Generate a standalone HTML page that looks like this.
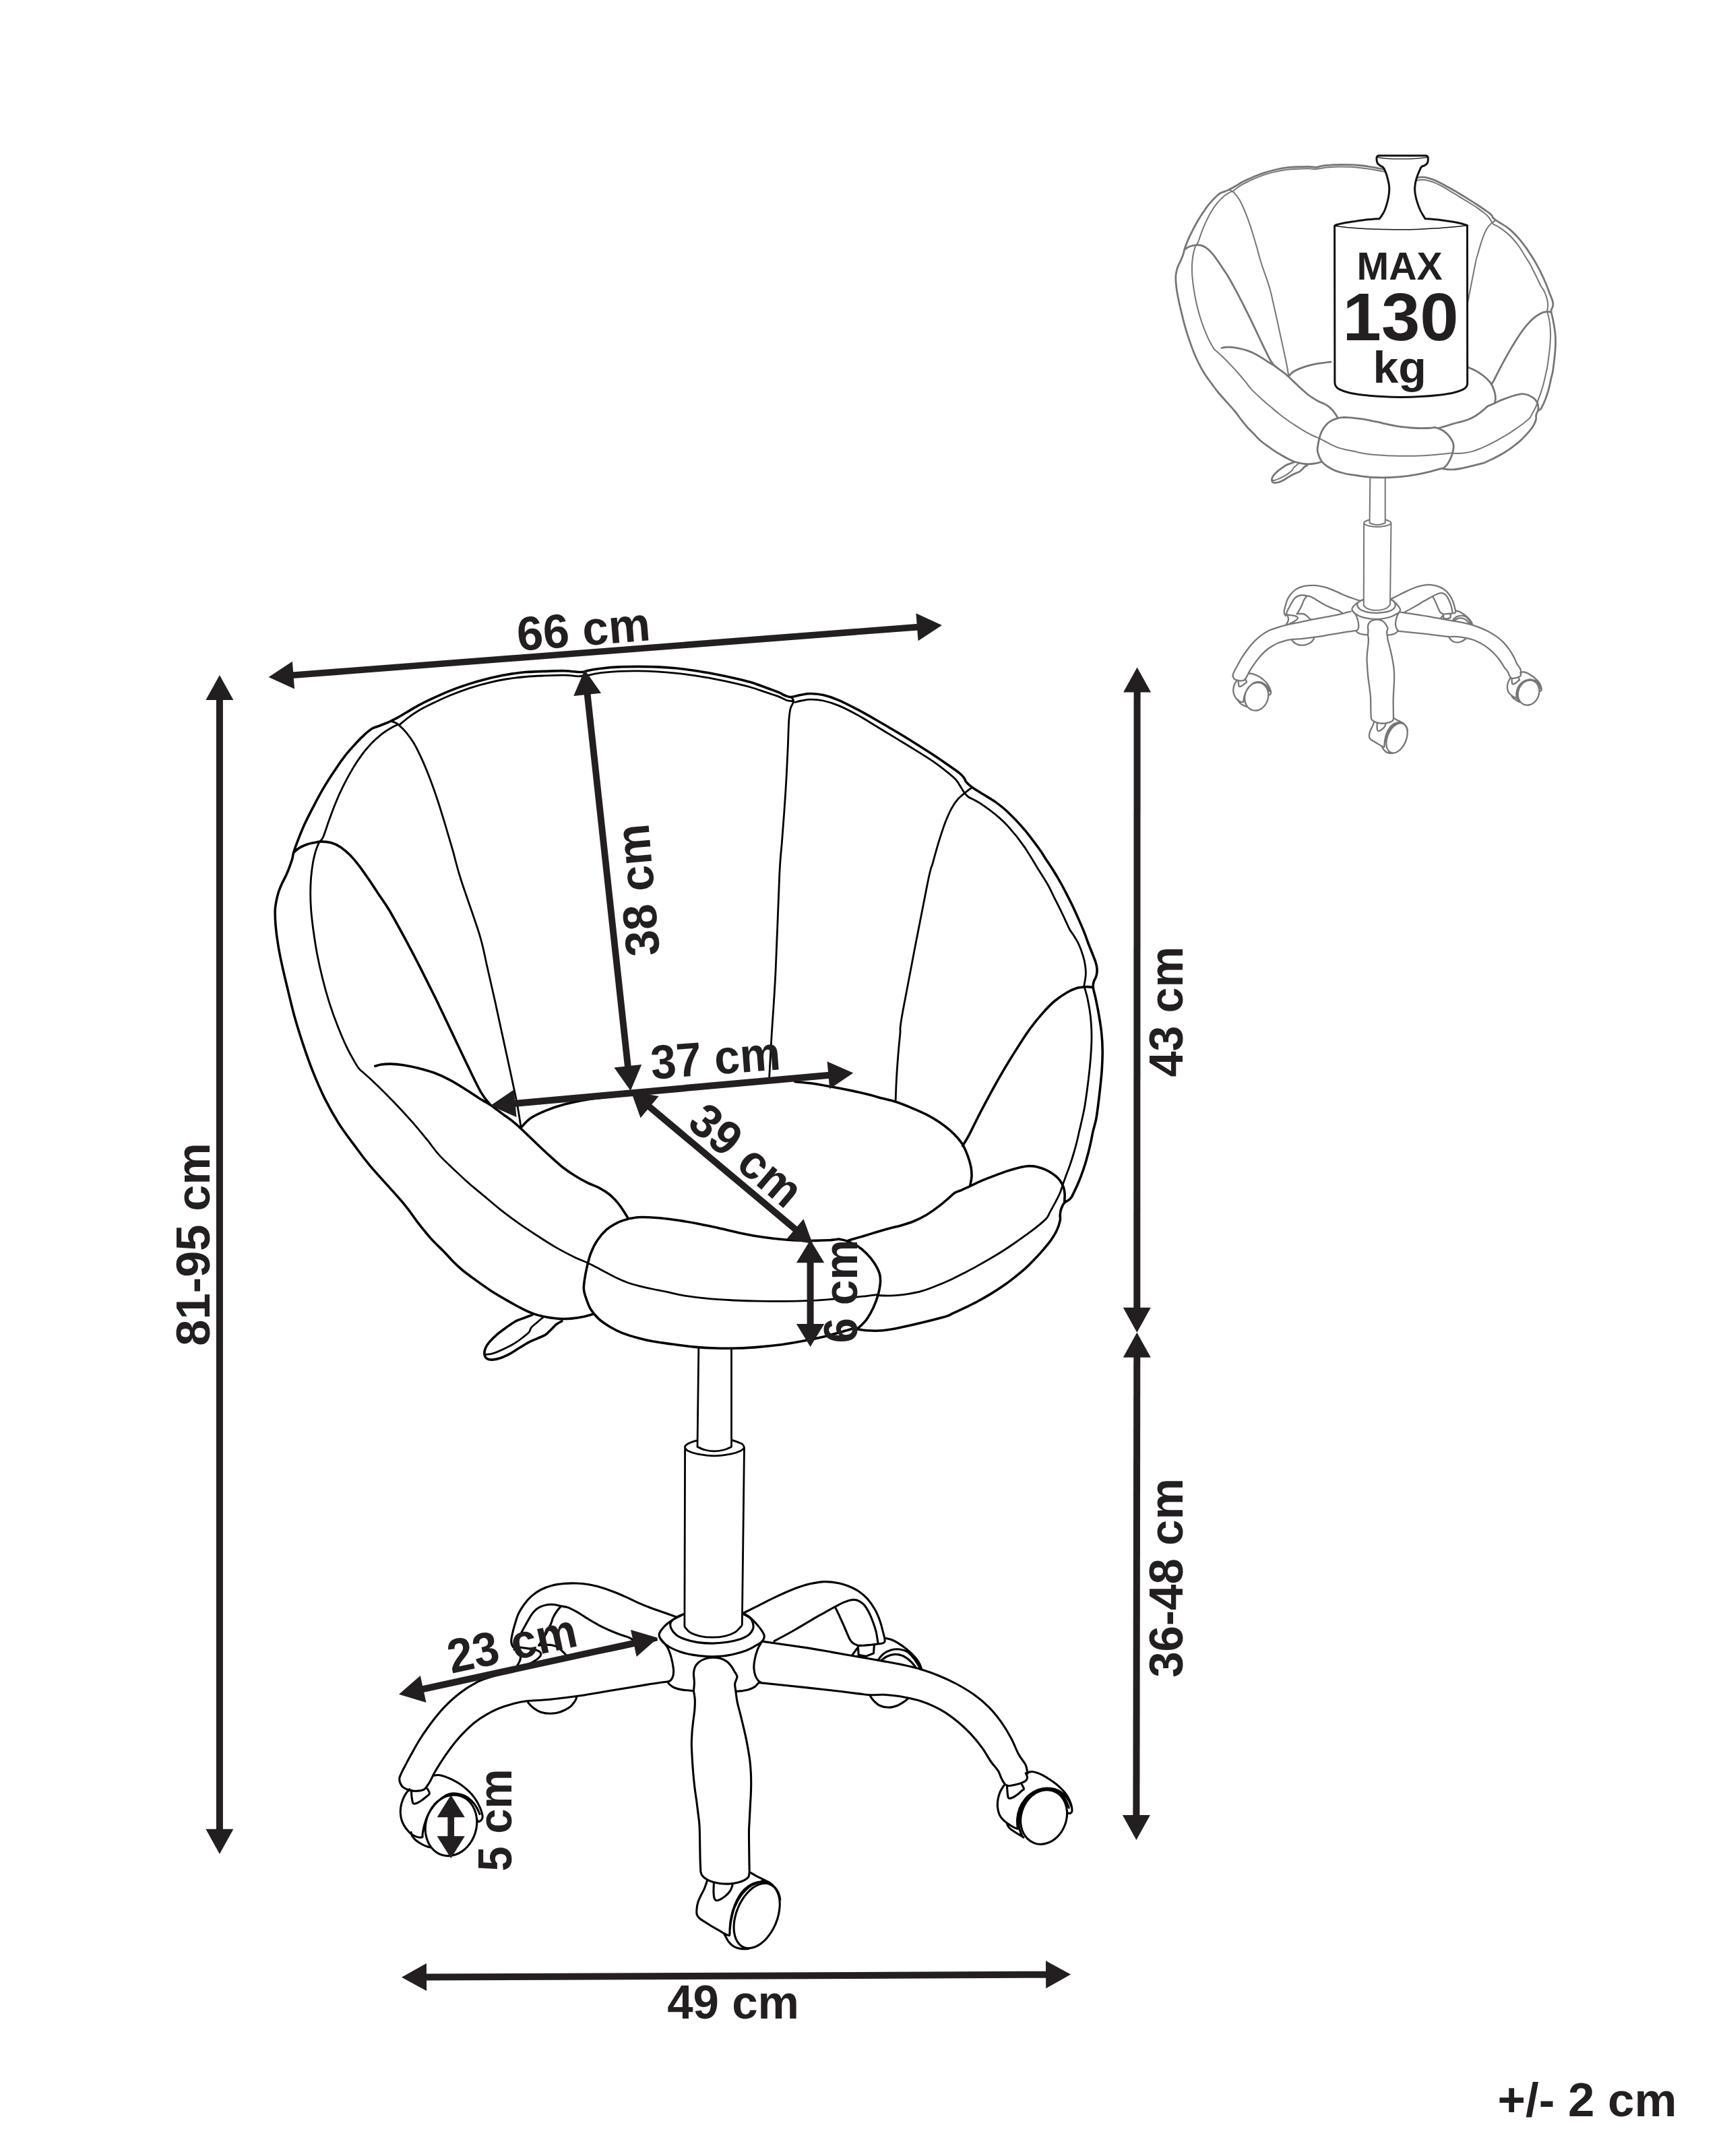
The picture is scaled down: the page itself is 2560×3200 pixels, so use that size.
<!DOCTYPE html>
<html lang="en">
<head>
<meta charset="utf-8">
<title>Chair dimensions</title>
<style>
html,body{margin:0;padding:0;background:#fff;}
body{width:2560px;height:3200px;overflow:hidden;}
svg{display:block;}
text{font-family:"Liberation Sans",sans-serif;fill:#231f20;}
</style>
</head>
<body>
<svg width="2560" height="3200" viewBox="0 0 2560 3200">
<defs>
<path id="chairA" fill="none" stroke-linecap="round" stroke-linejoin="round" d="M867.7 997.1C866.2 997.1 863.8 997.8 858.8 997.5C853.9 997.3 846.5 995.9 838 995.7C829.5 995.5 817.5 996.1 807.8 996.4C798.2 996.7 789.5 996.7 780 997.5C770.5 998.4 760.5 999.8 751 1001.5C741.5 1003.1 732.5 1005.2 723.2 1007.5C713.9 1009.8 704.6 1012.4 695.4 1015.4C686.1 1018.4 676.8 1021.7 667.5 1025.4C658.3 1029.1 647.4 1034.1 639.7 1037.7C632 1041.2 627.3 1043.6 621.2 1046.9C615 1050.3 608 1054.7 602.6 1057.8C597.2 1061 592.6 1063.8 588.7 1065.9C584.8 1068.1 582.5 1069.1 579.4 1070.6C576.3 1072 573.2 1073.3 570.1 1074.5C567.1 1075.8 563.8 1076.9 560.9 1078C558 1079.1 555.8 1079.2 552.8 1081C549.7 1082.9 546.4 1085.5 542.3 1089.1C538.3 1092.8 533.4 1097.6 528.4 1103C523.4 1108.5 517.6 1114.6 512.2 1121.6C506.8 1128.6 501.4 1136.7 495.9 1144.8C490.5 1152.9 484.7 1161.8 479.7 1170.3C474.7 1178.8 470.4 1186.9 465.8 1195.8C461.2 1204.7 455.9 1214.7 451.9 1223.6C447.8 1232.5 444.2 1242.2 441.4 1249.1C438.7 1256.1 436.9 1261.1 435.7 1265.4C434.4 1269.6 434.8 1271.2 433.8 1274.6C432.8 1278.1 431.3 1282.4 429.9 1286.2C428.4 1290.1 427.1 1293.6 425.2 1297.8C423.3 1302.1 420.2 1307.5 418.3 1311.7C416.3 1316 415 1319.1 413.6 1323.3C412.3 1327.6 411 1332.8 410.1 1337.2C409.3 1341.7 408.5 1344 408.3 1350C408.1 1356 408.3 1364.7 409 1373.2C409.7 1381.7 410.9 1391.4 412.5 1401C414 1410.7 415.9 1420.3 418.3 1431.2C420.6 1442 423.3 1453.2 426.4 1465.9C429.5 1478.7 432.9 1493.8 436.8 1507.7C440.7 1521.6 444.9 1535.5 449.6 1549.4C454.2 1563.3 459.2 1577.6 464.6 1591.2C470 1604.7 475.7 1617.8 482 1630.6C488.4 1643.3 495.6 1656.1 502.9 1667.7C510.2 1679.3 518.4 1689.7 526.1 1700.1C533.8 1710.6 537.2 1716 549.3 1730.3C561.4 1744.6 586.9 1771.9 598.6 1785.8C610.2 1799.7 612.5 1804.7 619.4 1813.6C626.4 1822.5 633.7 1831.8 640.3 1839.1C646.9 1846.5 653.4 1852.1 658.8 1857.7C664.3 1863.3 668.1 1868.1 672.8 1872.8C677.4 1877.4 681.3 1881.1 686.7 1885.5C692.1 1890 698.3 1894.4 705.2 1899.4C712.2 1904.4 720.7 1910.6 728.4 1915.7C736.1 1920.7 743.9 1925.1 751.6 1929.6C759.3 1934 767.8 1938.8 774.8 1942.3C781.7 1945.8 787.1 1948.3 793.3 1950.4C799.5 1952.6 805.7 1953.9 811.9 1955.1C818.1 1956.2 824.3 1957.1 830.4 1957.4C836.6 1957.7 842.8 1957.5 849 1956.9C855.2 1956.3 862.1 1955.1 867.5 1953.9C872.9 1952.8 879.1 1950.6 881.4 1950 M435.7 1265.4C436.8 1264.4 439.5 1261.5 442.6 1259.6C445.7 1257.6 450.3 1255.2 454.2 1253.8C458.1 1252.3 461.9 1251.5 465.8 1250.8C469.7 1250 473.1 1249.1 477.4 1249.1C481.6 1249.1 486.7 1249.4 491.3 1250.8C495.9 1252.1 500.6 1254.2 505.2 1257.2C509.9 1260.3 514.5 1264.2 519.1 1268.8C523.8 1273.5 528.4 1279.1 533 1285.1C537.7 1291.1 542.3 1298 547 1304.8C551.6 1311.5 555.8 1318.1 560.9 1325.7C565.9 1333.2 570.5 1339 577.1 1350C583.7 1361 592.6 1377.4 600.3 1391.7C608 1406 615.7 1420.7 623.5 1435.8C631.2 1450.9 638.9 1466.3 646.7 1482.2C654.4 1498 662.1 1514.6 669.9 1530.9C677.6 1547.1 685.7 1564.5 693 1579.6C700.4 1594.6 708.1 1611.3 713.9 1621.3C719.7 1631.4 725.5 1636.8 727.8 1639.9 M556.7 1582.3C558.2 1582 561.7 1580.6 565.5 1580C569.3 1579.5 574 1579 579.4 1579.1C584.8 1579.2 591 1579.7 598 1580.7C604.9 1581.8 613.4 1583.4 621.2 1585.4C628.9 1587.3 636.6 1589.4 644.3 1592.3C652.1 1595.2 659.8 1598.7 667.5 1602.8C675.3 1606.8 683 1611.8 690.7 1616.7C698.5 1621.5 707.7 1627.9 713.9 1631.7C720.1 1635.6 722.4 1636.2 727.8 1639.9C733.2 1643.5 740.2 1649.1 746.4 1653.8C752.6 1658.4 756.1 1660 764.9 1667.7C773.7 1675.4 790.5 1691.9 799.1 1700C807.7 1708.1 810.5 1710.8 816.5 1716.2C822.5 1721.6 828.9 1727.6 835.1 1732.5C841.3 1737.3 847.4 1741.4 853.6 1745.2C859.8 1749.1 866 1752.6 872.2 1755.7C878.4 1758.7 885.3 1760.9 890.7 1763.8C896.1 1766.7 900.4 1769.6 904.6 1773C908.9 1776.5 912.8 1780.6 916.2 1784.6C919.7 1788.7 922.8 1793.3 925.5 1797.4C928.2 1801.4 931.3 1807.1 932.5 1809 M867.7 997.1C868.5 996.8 868.8 996 872.8 995.2C876.7 994.4 883.6 993.1 891.3 992.2C899 991.3 909.9 990.3 919.1 989.9C928.4 989.4 937.7 989.4 947 989.4C956.2 989.4 965.5 989.5 974.8 989.9C984.1 990.3 993.3 990.9 1002.6 991.7C1011.9 992.6 1021.2 993.9 1030.4 995.2C1039.7 996.6 1049 998.1 1058.3 999.9C1067.5 1001.6 1076.8 1003.5 1086.1 1005.7C1095.4 1007.8 1105.4 1010.1 1113.9 1012.6C1122.4 1015.1 1130.1 1018.2 1137.1 1020.7C1144.1 1023.2 1151 1025.7 1155.7 1027.7C1160.3 1029.6 1161.8 1031.2 1164.9 1032.3C1168 1033.5 1170.1 1034.8 1174.2 1034.6C1178.3 1034.4 1184.4 1032 1189.3 1031.2C1194.1 1030.3 1197.8 1029.5 1203.2 1029.5C1208.6 1029.6 1214.8 1030 1221.7 1031.6C1228.7 1033.2 1236.4 1035.7 1244.9 1039.3C1253.4 1042.9 1263.5 1048.3 1272.8 1053.2C1282 1058.1 1291.3 1063.4 1300.6 1068.7C1309.9 1074 1319.1 1079.4 1328.4 1085C1337.7 1090.5 1347 1096.1 1356.2 1101.9C1365.5 1107.7 1375.6 1114.1 1384.1 1119.7C1392.6 1125.3 1400.7 1130.9 1407.2 1135.5C1413.8 1140.1 1419.6 1144 1423.5 1147.1C1427.3 1150.2 1428.7 1151.8 1430.4 1154.1C1432.2 1156.3 1432 1158.2 1433.9 1160.6C1435.8 1162.9 1437.9 1164.9 1442 1168C1446.2 1171 1452.9 1175.1 1458.8 1178.8C1464.7 1182.6 1471.2 1186 1477.4 1190.4C1483.6 1194.9 1489 1198.9 1495.9 1205.5C1502.9 1212.1 1511.4 1220.8 1519.1 1229.9C1526.9 1238.9 1537 1252.7 1542.3 1260C1547.6 1267.3 1547.2 1267.6 1551 1273.4C1554.8 1279.2 1561.1 1288.5 1564.9 1294.7C1568.8 1300.9 1571.1 1304.9 1574.2 1310.5C1577.3 1316.1 1580.4 1322.1 1583.5 1328.1C1586.6 1334.1 1589.7 1340.2 1592.8 1346.7C1595.8 1353.2 1599.2 1360.7 1602 1367.1C1604.8 1373.4 1607.3 1379.2 1609.4 1384.7C1611.6 1390.2 1612.3 1392.9 1615 1400C1617.7 1407.1 1623.6 1421 1625.8 1427.5C1628 1434.1 1627.9 1435.7 1628.1 1439.1C1628.3 1442.6 1627.8 1445.3 1627 1448.4C1626.1 1451.5 1623.8 1454.8 1623 1457.7C1622.2 1460.6 1621.9 1461.9 1622.3 1465.8C1622.8 1469.7 1624.4 1474.5 1625.8 1480.9C1627.1 1487.2 1629 1495.6 1630.4 1504.1C1631.9 1512.6 1633.6 1522.6 1634.6 1531.9C1635.6 1541.2 1636.2 1550 1636.2 1559.7C1636.3 1569.4 1635.8 1579 1635.1 1589.9C1634.3 1600.7 1632.9 1613 1631.6 1624.6C1630.2 1636.2 1628.6 1650.2 1627 1659.4C1625.3 1668.6 1623.2 1674.3 1621.9 1680C1620.6 1685.7 1620.2 1689 1619.1 1693.9C1618 1698.9 1616.8 1704.3 1615.4 1709.7C1614 1715.1 1612.5 1720.8 1610.8 1726.4C1609.1 1731.9 1607.1 1738 1605.2 1743.1C1603.4 1748.2 1601.5 1752.7 1599.7 1757C1597.8 1761.3 1595.6 1765.8 1594.1 1769C1592.5 1772.3 1591.6 1774.5 1590.4 1776.5C1589.1 1778.4 1588.1 1779.5 1586.7 1780.6C1585.3 1781.8 1583.3 1782.6 1582 1783.4C1580.8 1784.3 1580.2 1784.6 1579.2 1785.7C1578.3 1786.9 1577.3 1788.5 1576.5 1790.4C1575.6 1792.2 1574.7 1794.6 1574.1 1796.9C1573.6 1799.2 1573.4 1801.8 1573.2 1804.3C1573.1 1806.8 1574 1808 1573.2 1811.7C1572.4 1815.4 1570.6 1821.5 1568.3 1826.3C1566.1 1831 1563.2 1835.5 1560 1840.2C1556.8 1844.8 1552.8 1849.4 1548.9 1854.1C1544.9 1858.7 1540.8 1863.4 1536.3 1868C1531.9 1872.6 1527.5 1877.3 1522.4 1881.9C1517.3 1886.6 1511.3 1891.4 1505.7 1895.8C1500.2 1900.2 1495.1 1904.2 1489 1908.3C1483 1912.5 1476.1 1916.9 1469.6 1920.9C1463.1 1924.8 1456.6 1928.5 1450.1 1932C1443.6 1935.5 1436.6 1938.8 1430.6 1941.7C1424.6 1944.6 1419 1947.2 1413.9 1949.4C1408.8 1951.6 1412.7 1951.5 1400 1955C1387.3 1958.4 1352.7 1966.8 1337.7 1970.1C1322.7 1973.4 1318.4 1974 1309.9 1974.8C1301.4 1975.6 1293 1975.2 1286.7 1974.8C1280.3 1974.4 1274.1 1972.9 1271.6 1972.5 M1622.3 1465.8C1621 1465.6 1616.5 1464.8 1614.2 1464.6C1611.9 1464.5 1611.1 1464.8 1608.4 1465.1C1605.7 1465.4 1602 1465.2 1598 1466.5C1593.9 1467.8 1589.5 1469.6 1584.1 1472.8C1578.6 1475.9 1571.7 1480.3 1565.5 1485.5C1559.3 1490.7 1553.1 1497.1 1547 1504.1C1540.8 1511 1534.6 1518.7 1528.4 1527.2C1522.2 1535.7 1516 1545.4 1509.9 1555.1C1503.7 1564.7 1497.5 1574.8 1491.3 1585.2C1485.1 1595.7 1478.9 1606.5 1472.8 1617.7C1466.6 1628.9 1460 1641.3 1454.2 1652.5C1448.4 1663.7 1442.2 1676.9 1438 1684.9C1433.7 1692.9 1430.1 1698 1428.6 1700.6 M773 1673.9C775.4 1671.6 780.8 1664.3 787 1660C793.1 1655.7 801.6 1651.9 810.1 1648.4C818.6 1644.9 827.9 1641.8 838 1639.1C848 1636.4 858.5 1634.2 870.4 1632.2C882.4 1630.2 903.3 1627.9 909.9 1627.1 M1180 1605.5C1183.9 1605.9 1194.7 1606.7 1203.2 1607.8C1211.7 1609 1221.7 1610.8 1231 1612.5C1240.3 1614.1 1249.6 1615.9 1258.8 1617.8C1268.1 1619.7 1278.2 1622 1286.7 1624.1C1295.2 1626.1 1302.9 1628.5 1309.9 1630.3C1316.8 1632.1 1321.4 1632.7 1328.4 1635C1335.4 1637.2 1343.9 1640.6 1351.6 1643.8C1359.3 1647 1367.8 1650.6 1374.8 1654.2C1381.7 1657.8 1387.5 1661.2 1393.3 1665.1C1399.1 1669 1404.9 1673.4 1409.6 1677.4C1414.2 1681.4 1417.9 1685.2 1421.2 1689C1424.4 1692.7 1426.8 1695.4 1429.3 1699.9C1431.8 1704.3 1434.3 1710.3 1436.2 1715.7C1438.2 1721 1439.9 1726.9 1440.9 1731.9C1441.8 1736.9 1442.2 1741.2 1442 1745.8C1441.8 1750.4 1440.1 1757.4 1439.7 1759.7 M1439.2 1760.8C1441.6 1759.6 1448.1 1756.2 1453.6 1753.8C1459.1 1751.4 1465.5 1748.9 1472.2 1746.4C1478.9 1743.8 1488 1740.5 1493.9 1738.4C1499.9 1736.4 1503.5 1735.4 1507.8 1734.3C1512.2 1733.1 1516.3 1732.1 1519.9 1731.5C1523.4 1730.9 1525.9 1730.5 1529.2 1730.6C1532.4 1730.6 1535.8 1731.1 1539.4 1731.9C1542.9 1732.8 1546.8 1734 1550.5 1735.7C1554.2 1737.3 1558.4 1739.5 1561.6 1741.7C1564.9 1743.8 1567.7 1746.2 1570 1748.6C1572.3 1751 1574.1 1753.6 1575.5 1756.1C1577 1758.5 1578 1760.7 1578.8 1763.5C1579.6 1766.3 1580 1769.5 1580.2 1772.8C1580.3 1776 1579.8 1781.3 1579.7 1783 M1439.2 1760.8C1437 1761.8 1429.6 1765.1 1425.8 1766.8C1422 1768.4 1419.6 1768.7 1416.5 1770.7C1413.4 1772.7 1411.1 1775.6 1407.2 1778.8C1403.4 1782.1 1398.7 1786.4 1393.3 1790.4C1387.9 1794.5 1381 1799.5 1374.8 1803.2C1368.6 1806.9 1362.4 1809.9 1356.2 1812.5C1350 1815.1 1343.9 1816.9 1337.7 1818.7C1331.5 1820.5 1325.3 1821.7 1319.1 1823.4C1312.9 1825 1306.8 1826.8 1300.6 1828.7C1294.4 1830.6 1288.2 1832.6 1282 1834.5C1275.8 1836.3 1267.7 1838.6 1263.5 1839.8C1259.2 1841.1 1257.7 1841.6 1256.5 1841.9 M1244.5 1839.1C1246.5 1839.6 1251.8 1840.2 1256.5 1841.9C1261.2 1843.7 1267.9 1846.6 1272.8 1849.6C1277.6 1852.6 1281.4 1855.9 1285.5 1860C1289.6 1864.1 1293.8 1868.9 1297.1 1873.9C1300.4 1878.9 1303.7 1885.1 1305.2 1890.1C1306.8 1895.2 1306.8 1898.6 1306.4 1904.1C1306 1909.5 1304.6 1916.4 1302.9 1922.6C1301.2 1928.8 1298.6 1935.4 1295.9 1941.2C1293.2 1947 1289.8 1952.9 1286.7 1957.4C1283.6 1961.8 1279.9 1965.3 1277.4 1967.8C1274.9 1970.3 1272.6 1971.7 1271.6 1972.5 M932.5 1809C934.8 1808.6 941.4 1807.1 946.4 1806.7C951.4 1806.3 957.2 1806.5 962.6 1806.7C968 1806.9 971.5 1807.1 978.8 1807.8C986.2 1808.6 997.4 1810 1006.7 1811.3C1015.9 1812.7 1025.2 1814.2 1034.5 1815.9C1043.8 1817.7 1053 1819.7 1062.3 1821.7C1071.6 1823.8 1080.9 1826.2 1090.1 1828.2C1099.4 1830.3 1108.7 1832.4 1118 1834C1127.2 1835.7 1137.3 1836.9 1145.8 1838C1154.3 1839 1161.3 1839.7 1169 1840.3C1176.7 1840.9 1185.2 1841.3 1192.2 1841.4C1199.1 1841.6 1204.5 1841.6 1210.7 1841.4C1216.9 1841.3 1223.7 1841.1 1229.3 1840.8C1234.9 1840.4 1241.9 1839.4 1244.5 1839.1 M932.5 1809C929.8 1810 921.6 1812.1 916.2 1814.8C910.8 1817.5 905 1820.8 900 1825.2C895 1829.7 890 1835.7 886.1 1841.4C882.2 1847.2 879.3 1853.4 876.8 1860C874.3 1866.6 872.6 1874.3 871 1880.9C869.5 1887.4 868.3 1894 867.5 1899.4C866.8 1904.8 866 1908.7 866.4 1913.3C866.8 1918 868.1 1922.2 869.9 1927.2C871.6 1932.3 873.7 1938.5 876.8 1943.5C879.9 1948.5 883.8 1953.1 888.4 1957.4C893 1961.6 898.8 1965.5 904.6 1969C910.4 1972.5 916.2 1975.5 923.2 1978.3C930.1 1981 938.6 1983.6 946.4 1985.7C954.1 1987.8 961.1 1989.5 969.6 1991C978.1 1992.6 987.3 1993.6 997.4 1995C1007.4 1996.3 1019 1998.1 1029.9 1999.1C1040.7 2000.1 1051.5 2000.7 1062.3 2001C1073.1 2001.3 1084 2001.3 1094.8 2001C1105.6 2000.7 1116.4 2000 1127.2 1999.1C1138.1 1998.2 1148.9 1997.1 1159.7 1995.7C1170.5 1994.2 1181.4 1992.4 1192.2 1990.3C1203 1988.3 1215.4 1985.6 1224.6 1983.4C1233.9 1981.2 1240.5 1979.1 1247.8 1977.1C1255.2 1975.1 1264.7 1972.1 1268.7 1971.3C1272.7 1970.5 1271.1 1972.3 1271.6 1972.5 M789.9 1951.6C788.1 1952.3 783.5 1954 779.4 1955.5C775.4 1957.1 770.1 1958.4 765.5 1960.9C760.9 1963.3 756.2 1966.9 751.6 1970.1C747 1973.4 741.9 1976.9 737.7 1980.6C733.4 1984.3 729 1988.7 726.1 1992.2C723.2 1995.7 721.4 1998.4 720.3 2001.4C719.1 2004.5 718.7 2008.2 719.1 2010.7C719.5 2013.2 720.7 2015.3 722.6 2016.5C724.5 2017.8 727.4 2018.3 730.7 2018.1C734 2018 738.1 2017.3 742.3 2015.8C746.6 2014.4 751.6 2012 756.2 2009.6C760.9 2007.1 765.5 2003.8 770.1 2001C774.8 1998.2 779.4 1995.1 784.1 1992.6C788.7 1990.2 793.7 1988.3 798 1986.4C802.2 1984.4 806.1 1983.4 809.6 1981C813 1978.7 816.1 1975.1 818.8 1972.5C821.5 1969.9 823.3 1967.4 825.8 1965.5C828.3 1963.6 832.6 1961.6 833.9 1960.9"/>
<path id="chairB" fill="none" stroke-linecap="round" stroke-linejoin="round" d="M1015.5 2395.3C1014.1 2395.9 1009.8 2397.3 1007.2 2398.6C1004.6 2400 1001.8 2401.6 999.8 2403.3C997.8 2405 995.7 2406.5 995.1 2408.8C994.5 2411.2 994.7 2414.3 996.1 2417.2C997.4 2420.1 1000.1 2423.8 1003.5 2426.5C1006.9 2429.1 1011.2 2431.1 1016.5 2433C1021.7 2434.8 1028.2 2436.6 1035 2437.6C1041.8 2438.6 1049.9 2439.1 1057.3 2439.1C1064.7 2439 1072.7 2438.2 1079.5 2437.2C1086.3 2436.2 1092.8 2434.7 1098.1 2433C1103.3 2431.2 1107.8 2429.1 1111.1 2426.5C1114.3 2423.8 1116.6 2420.3 1117.6 2417.2C1118.6 2414.1 1117.8 2410.5 1117 2407.9C1116.2 2405.3 1115.3 2403.5 1112.9 2401.4C1110.5 2399.3 1104.4 2396.3 1102.7 2395.3 M1015.5 2395.3C1014.1 2396 1009.8 2398.2 1007.2 2399.6C1004.6 2400.9 1002.6 2401.6 999.8 2403.3C997 2405 993.3 2407.4 990.5 2409.8C987.7 2412.1 985.1 2414.7 983.1 2417.2C981.1 2419.7 979.1 2422.3 978.4 2424.6C977.8 2426.9 978.4 2428.9 979.4 2431.1C980.3 2433.3 981.5 2435.3 984 2437.6C986.5 2439.9 990 2442.7 994.2 2445C998.4 2447.3 1003.5 2449.7 1009 2451.5C1014.6 2453.4 1020.8 2455 1027.6 2456.1C1034.4 2457.3 1042.4 2458.2 1049.9 2458.6C1057.3 2458.9 1065.3 2458.6 1072.1 2458C1078.9 2457.4 1084.8 2456.1 1090.7 2454.7C1096.5 2453.3 1102.4 2451.6 1107.4 2449.7C1112.3 2447.7 1116.5 2445.3 1120.3 2443.2C1124.2 2441 1128.2 2439.1 1130.6 2436.7C1132.9 2434.2 1134.4 2431.3 1134.3 2428.3C1134.1 2425.4 1131.6 2422.1 1129.6 2419C1127.6 2416 1125 2412.9 1122.2 2409.8C1119.4 2406.7 1116.2 2403.1 1112.9 2400.5C1109.7 2397.9 1104.4 2395.1 1102.7 2394 M979.4 2431.1C980 2431.9 981.2 2433.4 983.1 2435.7C984.9 2438.1 988.3 2441 990.5 2445C992.7 2449 994.6 2454.6 996.1 2459.9C997.5 2465.1 998.9 2471.9 999.4 2476.6C999.9 2481.2 999.6 2484.7 998.8 2487.7C998.1 2490.6 996.4 2492.8 995.1 2494.2C993.9 2495.6 991.6 2494.9 991.4 2496C991.3 2497.1 992.5 2499.1 994.2 2500.7C995.9 2502.2 998.5 2504.1 1001.6 2505.3C1004.7 2506.5 1008.1 2507.4 1012.8 2508.1C1017.4 2508.8 1026.7 2509.3 1029.4 2509.6 M1130.6 2436.7C1129.5 2438.7 1125.8 2444.2 1124.1 2448.7C1122.3 2453.2 1120.8 2458.9 1120 2463.6C1119.1 2468.2 1118.6 2472.5 1118.9 2476.6C1119.1 2480.6 1120.1 2484.6 1121.3 2487.7C1122.5 2490.8 1124.4 2493.4 1125.9 2495.1C1127.5 2496.8 1130.6 2497.4 1130.6 2497.9C1130.6 2498.3 1127.6 2497 1125.9 2497.9C1124.2 2498.8 1122.8 2501.8 1120.3 2503.4C1117.9 2505.1 1114.2 2506.7 1111.1 2507.7C1108 2508.7 1104.7 2509.1 1101.8 2509.6C1098.9 2510 1094.8 2510.2 1093.4 2510.3 M1029.4 2509.6C1029.6 2507.5 1030.4 2501.2 1030.4 2497C1030.4 2492.7 1029.3 2487.7 1029.4 2484C1029.6 2480.3 1030.1 2477.5 1031.3 2474.7C1032.5 2471.9 1034.4 2469.4 1036.9 2467.3C1039.3 2465.2 1042.7 2463.3 1046.1 2462.1C1049.5 2460.9 1053.6 2460.3 1057.3 2460.2C1061 2460.1 1065 2460.5 1068.4 2461.3C1071.8 2462.2 1074.9 2463.5 1077.7 2465.4C1080.5 2467.3 1082.9 2470.1 1085.1 2472.8C1087.3 2475.6 1089.2 2479.5 1090.7 2482.1C1092.2 2484.7 1094 2485.8 1094 2488.6C1094 2491.4 1091.1 2495.6 1090.7 2498.8C1090.3 2502.1 1091 2503.6 1091.6 2508.1C1092.2 2512.6 1093 2520.2 1094.1 2525.9C1095.2 2531.7 1096.9 2537 1098.3 2542.6C1099.7 2548.2 1101 2553.5 1102.4 2559.3C1103.8 2565.1 1105.3 2571.4 1106.6 2577.4C1107.9 2583.4 1109 2589.4 1110.1 2595.5C1111.1 2601.5 1112.2 2607.8 1112.9 2613.6C1113.6 2619.4 1114 2624.7 1114.3 2630.3C1114.6 2635.8 1114.7 2641.4 1114.7 2647C1114.7 2652.5 1114.5 2657.9 1114.3 2663.7C1114 2669.4 1113.6 2675.2 1113.3 2681.7C1112.9 2688.2 1112.5 2696.2 1112.2 2702.6C1111.9 2709 1111.5 2710.7 1111.5 2720C1111.4 2729.3 1111.8 2748.6 1111.9 2758.4C1112 2768.3 1112.1 2775.8 1112.2 2779.3 M1029.4 2509.6C1029.8 2511.8 1031.1 2518.1 1031.3 2522.9C1031.5 2527.7 1031.2 2533.1 1030.8 2538.4C1030.3 2543.8 1029.3 2549.6 1028.7 2555.1C1028.1 2560.7 1027.4 2566.3 1027 2571.8C1026.6 2577.4 1026.3 2583 1026.3 2588.5C1026.3 2594.1 1026.7 2599.7 1027 2605.2C1027.3 2610.8 1027.6 2616.3 1028 2621.9C1028.4 2627.5 1028.9 2633 1029.4 2638.6C1029.9 2644.2 1030.5 2649.7 1031.2 2655.3C1031.9 2660.9 1032.8 2666.4 1033.6 2672C1034.3 2677.6 1035 2683.1 1035.7 2688.7C1036.3 2694.3 1037.3 2700.2 1037.7 2705.4C1038.2 2710.6 1038.2 2711.6 1038.4 2720C1038.6 2728.4 1038.8 2746 1039 2755.7C1039.2 2765.3 1039.7 2774.2 1039.8 2777.9 M1039.8 2777.9C1040.2 2778.8 1040.5 2781.6 1041.9 2783.5C1043.3 2785.3 1045.5 2787.4 1048.2 2789C1050.8 2790.7 1054.2 2792.1 1057.9 2793.2C1061.6 2794.3 1066.3 2795.3 1070.4 2795.7C1074.6 2796.2 1078.8 2796.3 1083 2796C1087.1 2795.7 1091.8 2794.8 1095.5 2793.9C1099.2 2793 1102.7 2791.8 1105.2 2790.4C1107.8 2789 1109.6 2787.4 1110.8 2785.6C1111.9 2783.7 1111.9 2780.3 1112.2 2779.3 M1049.6 2791.1C1048.9 2793.1 1047 2799.1 1045.4 2803C1043.8 2806.8 1041.4 2810.6 1039.8 2814.1C1038.2 2817.6 1036.6 2820.6 1035.7 2823.8C1034.7 2827.1 1034.2 2830.6 1034 2833.6C1033.8 2836.6 1033.5 2839.6 1034.3 2841.9C1035 2844.2 1036.3 2845.6 1038.4 2847.5C1040.5 2849.3 1043.5 2851 1046.8 2853C1050 2855.1 1054.2 2857.8 1057.9 2860C1061.6 2862.2 1066.3 2864.6 1069 2866.3C1071.8 2867.9 1072.4 2868.7 1074.6 2869.7C1076.8 2870.8 1080.9 2873.4 1082.3 2872.5C1083.7 2871.6 1082.8 2865.6 1083 2864.2 M1113.6 2779.3C1115 2780.1 1118.7 2782.4 1121.9 2784.2C1125.2 2785.9 1129.8 2788.1 1133 2789.7C1136.3 2791.4 1138.8 2792.3 1141.4 2793.9C1143.9 2795.5 1146.4 2797.5 1148.3 2799.5C1150.3 2801.4 1151.9 2803.5 1153.2 2805.7C1154.6 2807.9 1155.7 2810.4 1156.4 2812.7C1157.2 2815 1157.6 2818.5 1157.8 2819.7 M1059.3 2796C1059.3 2798.1 1058.9 2805 1059 2808.5C1059.1 2812 1059.3 2814.8 1060 2816.9C1060.7 2818.9 1061.7 2820.5 1063.5 2820.8C1065.2 2821 1068.1 2819.5 1070.4 2818.3C1072.8 2817 1075.2 2815.4 1077.4 2813.4C1079.6 2811.4 1082 2809 1083.7 2806.4C1085.3 2803.9 1086.6 2799.5 1087.1 2798.1 M1083 2864.2C1083.2 2861.9 1083.5 2855.1 1084.3 2850.3C1085.2 2845.4 1086.3 2839.8 1087.8 2835C1089.3 2830.1 1091.2 2825.4 1093.4 2821C1095.6 2816.6 1098.1 2812.1 1101 2808.5C1103.9 2804.9 1107.5 2801.8 1110.8 2799.5C1114 2797.2 1117.3 2795.7 1120.5 2794.6C1123.8 2793.5 1127.2 2793.1 1130.3 2792.9C1133.3 2792.8 1137.2 2793.4 1138.6 2793.5 M1133 2791.1C1129.8 2792.5 1119.1 2795.8 1113.6 2799.5C1108 2803.2 1103.6 2808.1 1099.7 2813.4C1095.7 2818.7 1092.3 2825.3 1089.9 2831.5C1087.5 2837.6 1086.2 2844.8 1085 2850.3C1083.9 2855.7 1083.6 2860.5 1083.2 2864.2C1082.8 2867.9 1082.8 2871.1 1082.7 2872.5 M1074.6 2870.4C1075.1 2871.2 1076.2 2873.3 1077.4 2875.3C1078.6 2877.3 1079.9 2880.2 1081.6 2882.3C1083.2 2884.3 1085 2886.3 1087.1 2887.8C1089.2 2889.3 1091.5 2890.5 1094.1 2891.3C1096.6 2892.1 1099.7 2892.5 1102.4 2892.7C1105.2 2892.9 1109.4 2892.5 1110.8 2892.4 M1151.2 2855.1C1149.5 2859.1 1147.4 2863.2 1145.2 2866.8C1142.9 2870.4 1140.3 2873.9 1137.7 2876.9C1135 2879.9 1132.1 2882.6 1129.2 2884.7C1126.3 2886.9 1123.2 2888.6 1120.3 2889.8C1117.4 2890.9 1114.4 2891.5 1111.6 2891.6C1108.8 2891.7 1106.1 2891.2 1103.7 2890.2C1101.3 2889.2 1099 2887.6 1097.1 2885.6C1095.2 2883.6 1093.6 2881 1092.3 2878.1C1091.1 2875.2 1090.1 2871.8 1089.6 2868.3C1089.1 2864.7 1088.9 2860.7 1089.2 2856.7C1089.4 2852.7 1090.1 2848.4 1091.1 2844.3C1092.1 2840.1 1093.5 2835.8 1095.2 2831.8C1096.8 2827.8 1098.9 2823.7 1101.2 2820.1C1103.4 2816.4 1106 2813 1108.6 2810C1111.3 2807 1114.2 2804.3 1117.1 2802.1C1120 2800 1123.1 2798.3 1126 2797.1C1129 2796 1131.9 2795.3 1134.7 2795.3C1137.5 2795.2 1140.2 2795.7 1142.6 2796.7C1145 2797.7 1147.3 2799.3 1149.2 2801.3C1151.1 2803.3 1152.8 2805.9 1154 2808.8C1155.3 2811.7 1156.2 2815.1 1156.7 2818.6C1157.2 2822.2 1157.4 2826.2 1157.1 2830.2C1156.9 2834.2 1156.2 2838.4 1155.2 2842.6C1154.3 2846.8 1152.8 2851.1 1151.2 2855.1Z M974.4 2434C969.9 2435.2 958.7 2438.4 947.1 2441.1C935.5 2443.8 921.2 2447 904.7 2450.2C888.2 2453.4 865 2456.9 848.1 2460.3C831.3 2463.6 817.1 2467.5 803.7 2470.4C790.2 2473.2 781.4 2473.8 767.3 2477.4C753.2 2481.1 729.5 2488.5 719.1 2492C708.8 2495.5 709.9 2495.8 705.2 2498.3C700.6 2500.7 695.9 2503.5 691.3 2506.6C686.7 2509.7 682 2513.2 677.4 2517C672.8 2520.9 668.1 2524.9 663.5 2529.6C658.8 2534.2 654.2 2539.3 649.6 2544.9C644.9 2550.4 640.3 2556.5 635.7 2563C631 2569.4 625.9 2577.1 621.7 2583.8C617.6 2590.6 614.1 2597 610.6 2603.3C607.1 2609.6 603.4 2616.5 600.9 2621.4C598.3 2626.3 596.6 2629.5 595.3 2632.5C594 2635.5 593 2637.2 592.8 2639.5C592.6 2641.8 593 2644.2 593.9 2646.4C594.8 2648.6 596.2 2651.1 598.1 2652.7C599.9 2654.3 602.3 2655.2 605 2656.2C607.8 2657.1 611.5 2658 614.8 2658.3C618 2658.5 622 2658 624.5 2657.6C627.1 2657.1 628.6 2656.5 630.1 2655.5C631.6 2654.4 633 2652 633.6 2651.3 M991.4 2495.7C986.2 2496.5 973.9 2498.2 960 2500.4C946.1 2502.7 924.3 2506.3 907.8 2509C891.4 2511.7 876.9 2514.4 861.4 2516.7C846 2518.9 828.4 2521.1 815.1 2522.5C801.8 2523.8 790.8 2523.6 781.7 2524.7C772.7 2525.8 767.8 2527 760.9 2528.9C753.9 2530.7 746.5 2533.2 740 2535.8C733.5 2538.5 727.7 2541.5 721.9 2544.9C716.1 2548.2 710.6 2551.8 705.2 2556C699.9 2560.2 694.8 2565 689.9 2569.9C685 2574.8 680.4 2579.9 676 2585.2C671.6 2590.6 667.4 2596.3 663.5 2601.9C659.5 2607.5 655.6 2613.5 652.3 2618.6C649.1 2623.7 646.3 2628.3 644 2632.5C641.7 2636.7 640.2 2640.5 638.4 2643.7C636.7 2646.8 634.4 2650 633.6 2651.3 M783.8 2527.1C785.1 2528.5 788.6 2532.8 791.9 2535.2C795.2 2537.6 799.2 2540.1 803.5 2541.5C807.7 2542.8 812.8 2543.4 817.4 2543.3C822 2543.3 826.7 2542.6 831.3 2541C835.9 2539.5 841.5 2536.8 845.2 2534.1C848.9 2531.4 851.6 2527.3 853.3 2524.8C855.1 2522.3 855.3 2520 855.7 2519 M610.3 2657C610.5 2658.7 610.6 2663.5 611 2666.8C611.5 2670 611.9 2674.9 613.1 2676.5C614.4 2678.1 616.6 2676.9 618.7 2676.2C620.8 2675.5 623.3 2673.9 625.7 2672.3C628 2670.8 630.6 2668.5 632.6 2666.8C634.6 2665 637.2 2663.9 637.5 2661.9C637.8 2659.9 634.8 2656.1 634.3 2655 M607.6 2655.7C606.6 2656.8 603.6 2660.1 602 2662.6C600.4 2665.2 599 2667.9 597.8 2671C596.7 2674 595.6 2677.4 595 2680.7C594.5 2683.9 594.2 2687.2 594.3 2690.4C594.5 2693.7 594.8 2696.9 595.7 2700.2C596.7 2703.4 598.2 2706.9 599.9 2709.9C601.7 2712.9 604.2 2716.1 606.2 2718.3C608.1 2720.5 609.9 2721.9 611.7 2723.1C613.6 2724.4 615.4 2725.2 617.3 2725.9C619.2 2726.6 621.2 2727.2 622.9 2727.3C624.5 2727.4 626.3 2726.7 627 2726.6 M643 2635.5C644.3 2635.3 647.8 2634.3 650.7 2634.5C653.6 2634.7 657 2635.7 660.4 2636.9C663.9 2638.1 667.9 2639.9 671.6 2641.7C675.3 2643.6 679.2 2645.7 682.7 2648C686.2 2650.3 689.4 2653 692.4 2655.7C695.4 2658.3 698.2 2661 700.8 2664C703.3 2667 705.8 2670.5 707.7 2673.7C709.7 2677 711.3 2680.5 712.6 2683.5C713.9 2686.5 714.8 2689.5 715.4 2691.8C716 2694.1 716.3 2695.8 716.1 2697.4C715.9 2699 715 2700.5 714 2701.6C713 2702.6 710.9 2703.9 709.8 2703.7C708.8 2703.4 708.1 2700.8 707.7 2700.2 M711.9 2692.5C711.1 2690.8 709.1 2685.4 707 2682.1C705 2678.7 702.3 2675.1 699.4 2672.3C696.5 2669.6 693.1 2667.1 689.7 2665.4C686.2 2663.7 682.2 2662.7 678.5 2662.2C674.8 2661.7 671.1 2661.6 667.4 2662.6C663.7 2663.6 660 2665.5 656.3 2668.2C652.6 2670.8 648.6 2674.4 645.1 2678.6C641.7 2682.8 637.9 2688.2 635.4 2693.2C632.8 2698.2 631.2 2703.9 629.8 2708.5C628.5 2713.2 627.8 2718 627.3 2721C626.9 2724.1 627.1 2725.7 627 2726.6 M610.3 2719.7C610.6 2720.6 610.6 2723.2 611.7 2725.2C612.9 2727.2 615 2729.5 617.3 2731.5C619.6 2733.4 622.9 2735.5 625.7 2737C628.4 2738.6 631.8 2740 634 2740.8C636.2 2741.6 638.1 2741.7 638.9 2741.9 M705.3 2720.3C704.2 2724.1 702.5 2727.9 700.6 2731.3C698.7 2734.7 696.4 2738 693.8 2740.8C691.3 2743.6 688.3 2746.1 685.3 2748.1C682.3 2750.1 679 2751.7 675.8 2752.8C672.5 2753.9 669.1 2754.5 665.8 2754.6C662.5 2754.6 659.2 2754.2 656.1 2753.2C653 2752.3 649.9 2750.8 647.3 2748.9C644.6 2747 642 2744.6 639.9 2741.9C637.8 2739.1 636 2736 634.7 2732.6C633.3 2729.3 632.3 2725.5 631.7 2721.8C631.2 2718 631.1 2714 631.4 2710.1C631.7 2706.2 632.5 2702.2 633.6 2698.4C634.8 2694.6 636.4 2690.8 638.3 2687.4C640.2 2684 642.6 2680.7 645.1 2677.9C647.7 2675.1 650.6 2672.6 653.6 2670.6C656.6 2668.6 659.9 2667 663.2 2665.9C666.4 2664.8 669.9 2664.2 673.2 2664.2C676.4 2664.1 679.8 2664.6 682.9 2665.5C686 2666.4 689 2667.9 691.7 2669.8C694.4 2671.7 696.9 2674.1 699 2676.9C701.1 2679.6 702.9 2682.8 704.3 2686.1C705.7 2689.4 706.7 2693.2 707.2 2696.9C707.8 2700.7 707.9 2704.7 707.6 2708.6C707.3 2712.5 706.5 2716.5 705.3 2720.3Z M1130.6 2436.1C1142.1 2437.8 1182.2 2443.4 1200 2446.1C1217.8 2448.9 1224.7 2450.5 1237.1 2452.6C1249.5 2454.8 1261.8 2457 1274.2 2459.1C1286.6 2461.3 1300.2 2463.6 1311.3 2465.6C1322.4 2467.6 1331.7 2469.2 1341 2471.2C1350.3 2473.2 1358.3 2475.1 1367 2477.7C1375.6 2480.3 1384.3 2483.4 1392.9 2487C1401.6 2490.5 1410.2 2494.4 1418.9 2499C1427.6 2503.7 1436.8 2509.1 1444.9 2514.8C1452.9 2520.5 1460.3 2526.5 1467.1 2533.3C1473.9 2540.1 1480.1 2547.9 1485.7 2555.6C1491.2 2563.3 1496.2 2571.7 1500.5 2579.7C1504.9 2587.7 1508.1 2597.4 1511.7 2603.8C1515.2 2610.3 1519.4 2614.4 1521.6 2618.4C1523.7 2622.5 1523.8 2625.9 1524.3 2628.2C1524.9 2630.5 1524.9 2631.7 1525 2632.3 M1130.6 2497.9C1142.1 2499.1 1182.2 2503.2 1200 2505.1C1217.8 2507 1224.7 2507.8 1237.1 2509.2C1249.5 2510.7 1264.9 2512.8 1274.2 2513.9C1283.5 2514.9 1286.6 2515.5 1292.8 2515.7C1298.9 2516 1305.1 2515.1 1311.3 2515.3C1317.5 2515.6 1323.7 2516.2 1329.9 2517C1336 2517.8 1342.2 2519 1348.4 2520.3C1354.6 2521.7 1360.8 2523 1367 2525C1373.1 2527 1379.3 2529.5 1385.5 2532.4C1391.7 2535.3 1397.9 2538.6 1404.1 2542.6C1410.2 2546.6 1416.4 2551.3 1422.6 2556.5C1428.8 2561.8 1435.3 2567.8 1441.2 2574.1C1447 2580.5 1452.9 2587.7 1457.9 2594.6C1462.8 2601.4 1466.9 2609.4 1470.8 2615C1474.7 2620.6 1478.7 2624.1 1481.2 2628.2C1483.8 2632.2 1484.5 2636.1 1486.1 2639.3C1487.7 2642.6 1489.3 2645.8 1491 2647.7C1492.6 2649.5 1493.3 2650.2 1495.8 2650.4C1498.4 2650.7 1502.9 2649.7 1506.3 2649C1509.6 2648.3 1513.3 2647.3 1516 2646.3C1518.7 2645.2 1520.8 2644.2 1522.3 2642.8C1523.7 2641.4 1524.6 2639.8 1524.6 2637.9C1524.6 2636.1 1522.7 2632.7 1522.3 2631.7 M1290.9 2516.3C1291.8 2517.6 1294 2521.5 1296.5 2524.1C1298.9 2526.6 1302 2529.8 1305.7 2531.5C1309.4 2533.2 1314.4 2534.3 1318.7 2534.3C1323.1 2534.3 1327.7 2533 1331.7 2531.5C1335.7 2529.9 1340.1 2526.8 1342.8 2525C1345.6 2523.1 1347.5 2521.1 1348.4 2520.3 M1494.4 2650.4C1494.7 2653.3 1495 2664.9 1496.2 2667.8C1497.5 2670.8 1500 2668.8 1502.1 2668.2C1504.2 2667.7 1506.7 2666 1509 2664.3C1511.4 2662.7 1514.3 2659.6 1516 2658.1C1517.7 2656.6 1519.4 2656.8 1519.5 2655.3C1519.6 2653.8 1517.2 2650.1 1516.7 2649 M1489.6 2650.4C1488.6 2652.1 1485.4 2656.7 1484 2660.2C1482.6 2663.7 1481.5 2667.6 1480.9 2671.3C1480.4 2675 1480.1 2678.7 1480.5 2682.4C1480.9 2686.1 1481.8 2690.3 1483.3 2693.6C1484.8 2696.8 1487.1 2699.5 1489.6 2701.9C1492 2704.3 1495.1 2706.3 1497.9 2708.2C1500.7 2710 1504.2 2712 1506.3 2713C1508.3 2714.1 1509.5 2714.2 1510.2 2714.4 M1523 2631.7C1524.1 2631.3 1527.4 2629.7 1529.9 2629.6C1532.5 2629.4 1535.2 2630 1538.3 2631C1541.3 2631.9 1544.5 2633.3 1548 2635.1C1551.5 2637 1555.4 2639.5 1559.1 2642.1C1562.8 2644.6 1566.8 2647.4 1570.3 2650.4C1573.7 2653.4 1577.3 2656.9 1580 2660.2C1582.7 2663.4 1584.6 2666.7 1586.3 2669.9C1587.9 2673.2 1589.3 2676.6 1590 2679.7C1590.8 2682.7 1591.1 2686 1590.9 2688C1590.6 2690 1589.5 2691 1588.3 2691.5C1587.2 2691.9 1584.9 2690.9 1584.2 2690.8 M1510.2 2714.4C1510.1 2711.9 1509.2 2704.2 1509.7 2699.1C1510.2 2694 1511.2 2688.7 1513.2 2683.8C1515.2 2679 1518.1 2674 1521.6 2669.9C1525 2665.9 1529.7 2662 1534.1 2659.5C1538.5 2656.9 1543.6 2655.4 1548 2654.6C1552.4 2653.8 1556.6 2654 1560.5 2654.6C1564.5 2655.2 1568.4 2656.5 1571.7 2658.1C1574.9 2659.7 1577.6 2661.9 1580 2664.3C1582.4 2666.8 1584.6 2669.9 1586.3 2672.7C1587.9 2675.5 1589.2 2679.7 1589.7 2681 M1517.4 2726.3C1516.6 2724.1 1513.4 2717.6 1512.5 2713C1511.6 2708.5 1511.4 2703.8 1511.8 2699.1C1512.3 2694.5 1513.4 2689.6 1515.3 2685.2C1517.2 2680.8 1519.8 2676.4 1523 2672.7C1526.1 2669 1530.4 2665.5 1534.1 2663C1537.8 2660.4 1541.5 2658.6 1545.2 2657.4C1548.9 2656.2 1552.6 2655.8 1556.3 2656C1560.1 2656.2 1564.2 2657.4 1567.5 2658.8C1570.7 2660.2 1573.4 2662 1575.8 2664.3C1578.3 2666.7 1580.3 2669.6 1582.1 2672.7C1583.8 2675.8 1585.6 2681.4 1586.3 2683.1 M1494.4 2706.8C1495 2707.8 1495.9 2711 1497.9 2713C1499.9 2715.1 1503.5 2717.4 1506.3 2719.3C1509 2721.2 1512.5 2722.9 1514.6 2724.2C1516.7 2725.4 1518.1 2726.5 1518.8 2727 M1580.6 2708.3C1579.3 2711.7 1577.7 2715 1575.8 2718C1574 2720.9 1571.7 2723.8 1569.3 2726.2C1566.9 2728.6 1564.2 2730.7 1561.4 2732.4C1558.6 2734 1555.6 2735.3 1552.6 2736.1C1549.7 2737 1546.6 2737.3 1543.6 2737.2C1540.7 2737.2 1537.7 2736.6 1535 2735.6C1532.3 2734.6 1529.7 2733.1 1527.4 2731.3C1525.1 2729.5 1522.9 2727.2 1521.2 2724.7C1519.5 2722.2 1518 2719.2 1516.9 2716.2C1515.9 2713.1 1515.1 2709.7 1514.8 2706.3C1514.5 2703 1514.6 2699.3 1515.1 2695.9C1515.6 2692.4 1516.5 2688.8 1517.7 2685.5C1518.9 2682.1 1520.5 2678.8 1522.4 2675.8C1524.3 2672.9 1526.5 2670 1528.9 2667.6C1531.3 2665.2 1534.1 2663.1 1536.8 2661.4C1539.6 2659.8 1542.6 2658.5 1545.6 2657.7C1548.5 2656.9 1551.6 2656.5 1554.6 2656.6C1557.5 2656.7 1560.5 2657.2 1563.2 2658.2C1565.9 2659.2 1568.6 2660.7 1570.9 2662.5C1573.2 2664.3 1575.3 2666.6 1577 2669.1C1578.8 2671.6 1580.2 2674.6 1581.3 2677.6C1582.4 2680.7 1583.1 2684.1 1583.4 2687.5C1583.7 2690.9 1583.6 2694.5 1583.1 2697.9C1582.7 2701.4 1581.8 2705 1580.6 2708.3Z M764.3 2446.4C763.8 2446 761.8 2445.2 760.9 2443.7C759.9 2442.1 759 2439.8 758.8 2437.4C758.6 2435 758.7 2433.2 759.5 2429C760.3 2424.9 762 2417.9 763.7 2412.3C765.3 2406.8 766.9 2400.8 769.2 2395.7C771.5 2390.6 774.3 2386.1 777.6 2381.7C780.8 2377.3 784.5 2372.9 788.7 2369.2C792.9 2365.5 797.5 2362.1 802.6 2359.5C807.7 2356.8 813.5 2354.7 819.3 2353.2C825.1 2351.7 831.4 2351 837.4 2350.4C843.4 2349.9 849.4 2349.8 855.5 2350C861.5 2350.2 867.5 2350.8 873.6 2351.8C879.6 2352.8 885.6 2354.3 891.7 2356C897.7 2357.7 903.7 2359.9 909.7 2362.3C915.8 2364.6 921.8 2367.2 927.8 2369.9C933.9 2372.6 940.1 2375.7 945.9 2378.3C951.7 2380.8 956.9 2383 962.6 2385.2C968.3 2387.4 973 2389 980 2391.5C987 2394 1000.3 2398.7 1004.4 2400.1 M765.3 2444.1C765.9 2442.1 765.9 2439.1 769.3 2432C772.7 2424.8 782 2408 785.9 2401.2C789.8 2394.5 790.3 2394.1 792.9 2391.5C795.4 2388.8 798 2386.8 801.2 2385.2C804.5 2383.6 808.6 2382.3 812.3 2381.7C816.1 2381.2 820.1 2381.4 823.5 2381.7C826.8 2382.1 829.3 2383.1 832.5 2383.8C835.8 2384.5 839.1 2384.5 843 2385.9C846.8 2387.3 851.3 2389.9 855.5 2392.2C859.7 2394.5 863.8 2397.3 868 2399.8C872.2 2402.4 876.3 2405 880.5 2407.5C884.7 2409.9 888.6 2412.2 893 2414.4C897.4 2416.6 902.3 2418.7 907 2420.7C911.6 2422.7 916.2 2424.5 920.9 2426.3C925.5 2428 930.4 2428.9 934.8 2431.1C939.2 2433.4 945.1 2438.2 947.1 2439.7 M832.5 2384.2C831.5 2385.4 828.2 2388.6 826.3 2391.5C824.3 2394.3 822.2 2398 820.7 2401.2C819.2 2404.5 819.4 2406.2 817.2 2411C815.1 2415.7 810.6 2424.8 807.7 2430C804.8 2435.1 801 2440.1 799.6 2442.1 M769.3 2444.5C768.3 2445.1 764.1 2447.8 763.2 2448.1C762.4 2448.5 764.2 2446.7 764.3 2446.4 M765.3 2444.1C767.6 2444.4 774.7 2445.5 779.4 2446.1C784.1 2446.8 791.2 2447.8 793.5 2448.1 M770.3 2448.1C770.6 2450.5 773.2 2457.6 772.3 2462.3C771.5 2467 766.4 2474.1 765.3 2476.4 M793.5 2448.1C794.9 2448.8 800.3 2450.5 801.6 2452.2C803 2453.9 803.3 2455.9 801.6 2458.3C799.9 2460.6 795.9 2463.6 791.5 2466.3C787.2 2469 779.1 2472.7 775.4 2474.4C771.7 2476.1 770.3 2476.1 769.3 2476.4 M799.6 2442.1C801.6 2441.9 807.7 2440.9 811.7 2441.1C815.8 2441.2 820.2 2441.6 823.9 2443.1C827.6 2444.6 830.9 2447.6 834 2450.2C837 2452.7 839.7 2456.6 842 2458.3C844.4 2459.9 847.1 2459.9 848.1 2460.3 M1103.7 2394C1107.1 2392.3 1116 2387.8 1124.1 2383.8C1132.1 2379.8 1142.6 2374.2 1151.9 2369.9C1161.2 2365.6 1171.4 2361 1179.7 2357.8C1188.1 2354.6 1194.6 2352.5 1202 2350.8C1209.4 2349.1 1217.1 2347.8 1224.2 2347.6C1231.3 2347.4 1238.7 2348.6 1244.5 2349.7C1250.4 2350.8 1254.4 2352.3 1259.4 2354.3C1264.3 2356.3 1269.6 2358.6 1274.2 2361.7C1278.8 2364.8 1283.2 2368.4 1287.2 2372.9C1291.2 2377.4 1295.2 2383.2 1298.3 2388.6C1301.4 2394 1303.7 2399.8 1305.7 2405.3C1307.7 2410.9 1309.2 2416.8 1310.4 2422C1311.6 2427.3 1314.3 2433.8 1312.8 2436.9C1311.2 2439.9 1306 2439.3 1301.1 2440.2C1296.2 2441.1 1288.1 2441.7 1283.5 2442.1C1278.8 2442.4 1275 2442.4 1273.3 2442.4 M1149.1 2435.7C1154.2 2433 1169.7 2424.8 1179.7 2419C1189.8 2413.3 1202 2405.7 1209.4 2401.4C1216.8 2397.1 1219.2 2396 1224.1 2393.3C1229 2390.5 1234.3 2387.4 1239 2384.9C1243.6 2382.5 1247.9 2380.1 1251.9 2378.4C1256 2376.7 1259.7 2375.3 1263.1 2374.7C1266.5 2374.2 1269.3 2374.2 1272.3 2375.3C1275.4 2376.4 1278.8 2378.4 1281.6 2381.2C1284.4 2384.1 1286.7 2388 1289 2392.3C1291.4 2396.7 1293.7 2402.2 1295.5 2407.2C1297.4 2412.1 1298.9 2416.8 1300.2 2422C1301.4 2427.3 1302.5 2435.9 1303 2438.7 M1239.9 2386.4C1241 2388.6 1244.1 2394.8 1246.4 2399.8C1248.7 2404.8 1251.3 2410.9 1253.8 2416.5C1256.3 2422 1259.2 2429.4 1261.2 2433.2C1263.2 2436.9 1263.8 2437.2 1265.9 2438.7C1267.9 2440.3 1272 2441.8 1273.3 2442.4 M1273.3 2442.4L1274.2 2456.3L1285.3 2458.2L1296.5 2453.9L1297.4 2440.6 M1272.3 2446.1L1264.9 2456.3 M1313.2 2431.3C1315.3 2431.9 1321.5 2432.9 1326.1 2435C1330.8 2437.2 1336.3 2440.9 1341 2444.3C1345.6 2447.7 1350.3 2451.7 1354 2455.4C1357.7 2459.1 1360.9 2462.8 1363.2 2466.6C1365.6 2470.3 1367.1 2475.8 1367.9 2477.7 M1303.9 2462.8C1305.1 2461.4 1308.2 2456.8 1311.3 2454.5C1314.4 2452.2 1318.4 2450 1322.4 2448.9C1326.5 2447.8 1331.4 2447.5 1335.4 2448C1339.4 2448.5 1343.1 2449.5 1346.6 2451.7C1350 2453.9 1353 2457.6 1355.8 2461C1358.6 2464.4 1361.5 2469.3 1363.2 2472.1C1364.9 2474.9 1365.6 2476.8 1366 2477.7 M1308.5 2463.8C1309.9 2462.8 1313.6 2459.6 1316.9 2458.2C1320.1 2456.8 1324.3 2455.6 1328 2455.4C1331.7 2455.3 1335.4 2455.7 1339.1 2457.3C1342.8 2458.8 1347 2461.9 1350.3 2464.7C1353.5 2467.5 1357.2 2472.4 1358.6 2474"/>
<path id="chairC" fill="none" stroke-linecap="round" stroke-linejoin="round" d="M867.7 1002.2C866.2 1002.4 863.8 1003.8 858.8 1003.8C853.9 1003.8 846.5 1002.3 838 1002.2C829.5 1002 817.5 1002.5 807.8 1002.9C798.2 1003.3 789.5 1003.6 780 1004.5C770.5 1005.3 760.5 1006.4 751 1008C741.5 1009.5 732.5 1011.4 723.2 1013.8C713.9 1016.1 704.6 1018.8 695.4 1021.9C686.1 1025 676.8 1028.5 667.5 1032.3C658.3 1036.2 647.4 1041.3 639.7 1045.1C632 1048.8 626.6 1051.6 621.2 1054.8C615.7 1058 611.3 1061.1 607.2 1064.1C603.2 1067 599.3 1070.4 596.8 1072.4C594.3 1074.5 592.9 1075.7 592.2 1076.4 M579.4 1070.1C580.6 1070.5 584.3 1071.4 586.4 1072.4C588.5 1073.5 589.5 1074 592.2 1076.4C594.9 1078.8 598.9 1082.4 602.6 1086.8C606.3 1091.3 610.3 1096.5 614.2 1103C618.1 1109.6 621.9 1117.7 625.8 1126.2C629.7 1134.7 633.5 1144 637.4 1154.1C641.3 1164.1 645.1 1174.9 649 1186.5C652.9 1198.1 656.7 1210.9 660.6 1223.6C664.4 1236.4 668.3 1249.5 672.2 1263C676 1276.6 677.2 1284.1 683.8 1304.8C690.3 1325.5 705 1365.3 711.6 1387.1C718.2 1408.9 719.3 1419.2 723.2 1435.8C727.1 1452.4 730.9 1469.4 734.8 1486.8C738.6 1504.2 742.5 1522.4 746.4 1540.1C750.2 1557.9 754.5 1577.2 758 1593.5C761.4 1609.7 764.7 1624.4 767.2 1637.5C769.8 1650.7 772.1 1666.5 773 1672.3 M589.9 1075.7C588.1 1076.6 583.5 1078.6 579.4 1081C575.4 1083.4 570.1 1086.6 565.5 1090.3C560.9 1094 556.2 1098.2 551.6 1103C547 1107.9 542.3 1113.1 537.7 1119.3C533 1125.5 528.4 1132.4 523.8 1140.1C519.1 1147.9 514.1 1157.1 509.9 1165.7C505.6 1174.2 501.9 1182.3 498.3 1191.2C494.6 1200 490.9 1210.5 487.8 1219C484.7 1227.5 482 1237 479.7 1242.2C477.4 1247.3 474.9 1248.6 473.9 1249.8 M473.9 1249.8C473.1 1251.6 470.8 1255.8 469.3 1260.7C467.7 1265.6 465.9 1272.3 464.6 1279.3C463.4 1286.2 462.3 1294.7 461.6 1302.5C461 1310.2 460.7 1317.7 460.7 1325.7C460.7 1333.6 461 1341.3 461.6 1350C462.3 1358.7 463.2 1367 464.6 1377.8C466.1 1388.6 468.1 1402.6 470.4 1414.9C472.8 1427.3 475.5 1439.7 478.6 1452C481.6 1464.4 485.3 1477.5 489 1489.1C492.7 1500.7 496.3 1510.8 500.6 1521.6C504.8 1532.4 509.9 1544.4 514.5 1554.1C519.1 1563.7 525.1 1574 528.4 1579.6C531.7 1585.2 533.2 1586.3 534.2 1587.7 M534.2 1587.7C537.9 1591 547.9 1599.5 556.2 1607.4C564.5 1615.3 574.8 1625.6 584.1 1635.2C593.3 1644.9 603.4 1655.7 611.9 1665.4C620.4 1675 628.1 1684.7 635.1 1693.2C642 1701.7 644.3 1706.5 653.6 1716.4C663 1726.2 681.2 1742.9 691.3 1752.2C701.4 1761.4 706 1764.7 714.5 1771.9C723 1779 733 1787.7 742.3 1795.1C751.6 1802.4 760.9 1809.4 770.1 1815.9C779.4 1822.5 788.7 1828.5 798 1834.5C807.2 1840.5 816.5 1846.6 825.8 1851.9C835.1 1857.2 845.9 1862.7 853.6 1866.5C861.4 1870.2 866 1871.5 872.2 1874.4C878.4 1877.3 883.7 1880.2 890.7 1883.9C897.7 1887.5 907.1 1892.9 914.1 1896.3C921.2 1899.7 926.6 1902 932.8 1904.2C939 1906.4 945.1 1907.7 951.2 1909.3C957.4 1910.8 963.6 1912.2 969.8 1913.5C976 1914.8 980.7 1915.6 988.3 1917.2C996 1918.8 1005.2 1921.3 1015.9 1923.1C1026.7 1924.8 1040.7 1926.6 1053 1927.7C1065.4 1928.9 1077.8 1929.4 1090.1 1930C1102.5 1930.6 1114.9 1931 1127.2 1931.2C1139.6 1931.4 1152.8 1931.5 1164.3 1931.4C1175.9 1931.3 1186.8 1931.1 1196.8 1930.7C1206.9 1930.3 1215.4 1929.8 1224.6 1929.1C1233.9 1928.4 1243.2 1927.6 1252.5 1926.8C1261.7 1926 1271.9 1925.1 1280.3 1924.2C1288.7 1923.3 1299.1 1921.9 1302.9 1921.4 M867.7 1002.2C868.5 1002.2 868.8 1002.8 872.8 1002.2C876.7 1001.6 883.6 999.7 891.3 998.7C899 997.7 909.9 996.8 919.1 996.4C928.4 995.9 937.7 995.8 947 995.9C956.2 996 965.5 996.3 974.8 996.8C984.1 997.4 993.3 998.2 1002.6 999.2C1011.9 1000.1 1021.2 1001.3 1030.4 1002.6C1039.7 1004 1049 1005.5 1058.3 1007.3C1067.5 1009 1076.8 1010.9 1086.1 1013.1C1095.4 1015.2 1105.4 1017.6 1113.9 1020C1122.4 1022.5 1130.1 1025.4 1137.1 1027.7C1144.1 1030 1150.6 1032 1155.7 1033.9C1160.7 1035.9 1163.6 1038.1 1167.2 1039.3C1170.9 1040.4 1175.9 1040.6 1177.7 1040.9 M1174.2 1034.6C1174.8 1035.7 1177.9 1038 1177.7 1040.9C1177.5 1043.8 1174.2 1047.1 1173 1052C1171.9 1057 1171.4 1060.5 1170.7 1070.6C1170.1 1080.6 1169.8 1097.6 1169.1 1112.3C1168.4 1127 1167.7 1143.2 1166.8 1158.7C1165.9 1174.2 1164.9 1189.6 1163.8 1205.1C1162.7 1220.5 1161.4 1236 1160.3 1251.4C1159.1 1266.9 1158.4 1265.9 1156.8 1297.8C1155.3 1329.7 1152.9 1403.1 1151 1442.8C1149.1 1482.4 1146.8 1509.6 1145.2 1535.5C1143.7 1561.4 1142.3 1587.7 1141.7 1598.1 M1180 1042.3C1181.5 1041.9 1185.4 1040.7 1189.3 1040C1193.1 1039.3 1197.8 1038.1 1203.2 1038.1C1208.6 1038.1 1214.8 1038.4 1221.7 1040C1228.7 1041.5 1236.4 1043.8 1244.9 1047.4C1253.4 1050.9 1263.5 1056.2 1272.8 1061.3C1282 1066.4 1291.3 1072.4 1300.6 1078C1309.9 1083.6 1319.1 1089.3 1328.4 1094.9C1337.7 1100.6 1347 1106.1 1356.2 1111.9C1365.5 1117.7 1375.6 1123.8 1384.1 1129.7C1392.6 1135.6 1401.4 1142.5 1407.2 1147.1C1413 1151.7 1415.7 1154.1 1418.8 1157.5C1421.9 1161 1423.7 1164.7 1425.8 1168C1427.9 1171.3 1430.6 1175.7 1431.6 1177.2 M1442 1169.1C1440.3 1170.5 1435.1 1174.3 1431.6 1177.2C1428.1 1180.1 1424.4 1182.7 1421.2 1186.5C1417.9 1190.4 1415 1194.6 1411.9 1200.4C1408.8 1206.2 1405.7 1213.2 1402.6 1221.3C1399.5 1229.4 1396.4 1239.1 1393.3 1249.1C1390.2 1259.2 1387 1270.8 1384.1 1281.6C1381.2 1292.4 1383.3 1277.7 1375.9 1314.1C1368.6 1350.5 1346.7 1463.2 1340 1500C1333.3 1536.8 1337.1 1523.2 1335.8 1534.8C1334.6 1546.4 1333.5 1558 1332.6 1569.6C1331.7 1581.2 1330.8 1593.5 1330.3 1604.3C1329.7 1615.2 1329.3 1629.5 1329.1 1634.5 M1431.6 1177.2C1432.6 1178.2 1434.9 1181.3 1437.4 1183C1439.9 1184.8 1443.1 1185.7 1446.7 1187.7C1450.2 1189.7 1453.7 1191.5 1458.8 1195.1C1464 1198.6 1471.2 1203.8 1477.4 1209C1483.6 1214.2 1489 1218.6 1495.9 1226.4C1502.9 1234.1 1511.4 1244.3 1519.1 1255.4C1526.9 1266.4 1536.2 1282.7 1542.3 1292.5C1548.4 1302.3 1551.9 1307.5 1555.7 1314.2C1559.4 1320.9 1561.8 1326.6 1564.9 1332.8C1568 1338.9 1571.4 1345.6 1574.2 1351.3C1577 1357 1579.5 1362.4 1581.6 1367.1C1583.8 1371.7 1585.3 1375.7 1587.2 1379.1C1589 1382.5 1590.6 1384 1592.8 1387.5C1594.9 1391 1597.8 1394.9 1600.2 1400C1602.6 1405.1 1605.5 1412.5 1607.2 1418.3C1609 1424 1610.1 1429.5 1610.7 1434.5C1611.4 1439.5 1611.6 1443.3 1611.2 1448.4C1610.8 1453.5 1608.9 1462.3 1608.4 1465.1 M1609.6 1465.8C1610.3 1468.7 1612.7 1476 1614.2 1483.2C1615.7 1490.3 1617.4 1499.8 1618.4 1508.7C1619.3 1517.6 1619.9 1526.9 1620 1536.5C1620.1 1546.2 1619.6 1555.8 1618.8 1566.7C1618.1 1577.5 1616.9 1588.7 1615.4 1601.4C1613.8 1614.2 1611.9 1630 1609.6 1643.2C1607.2 1656.3 1603.4 1671.5 1601.4 1680.3C1599.5 1689.1 1599.2 1690.4 1597.8 1695.8C1596.4 1701.1 1594.9 1706.7 1593.2 1712.5C1591.5 1718.2 1589.4 1724.7 1587.6 1730.1C1585.7 1735.5 1583.7 1740.3 1582 1744.9C1580.3 1749.6 1578.8 1753.9 1577.4 1757.9C1576 1761.9 1575.1 1765.5 1573.7 1769C1572.3 1772.6 1570.7 1775.8 1569 1779.2C1567.3 1782.6 1565.3 1786 1563.5 1789.4C1561.6 1792.9 1559.6 1796.6 1557.9 1799.7C1556.2 1802.7 1556.4 1804.5 1553.3 1808C1550.1 1811.5 1544.3 1816.5 1539.1 1820.7C1534 1824.9 1528 1829.2 1522.4 1833.2C1516.9 1837.3 1511.3 1841.2 1505.7 1845C1500.2 1848.9 1495.1 1852.3 1489 1856.2C1483 1860 1476.1 1864.2 1469.6 1868C1463.1 1871.8 1456.6 1875.5 1450.1 1879.1C1443.6 1882.7 1436.6 1886.4 1430.6 1889.6C1424.6 1892.7 1419 1895.5 1413.9 1897.9C1408.8 1900.3 1407.3 1901.2 1400 1904.2C1392.7 1907.1 1379.8 1912.8 1370.1 1915.7C1360.5 1918.5 1350.8 1920.2 1342.3 1921.4C1333.8 1922.7 1325.7 1922.9 1319.1 1923.1C1312.6 1923.3 1305.6 1922.7 1302.9 1922.6 M806.1 1955.1C804.7 1956.2 800.9 1959.5 798 1962C795.1 1964.5 790.8 1967.6 788.7 1970.1C786.6 1972.7 787.1 1974.8 785.2 1977.1C783.3 1979.4 780.4 1981.5 777.1 1984.1C773.8 1986.6 769.8 1989.9 765.5 1992.6C761.3 1995.3 756.2 1998 751.6 2000.3C747 2002.6 741.5 2005 737.7 2006.6C733.8 2008.1 731.1 2008.9 728.4 2009.6C725.7 2010.2 722.6 2010.1 721.4 2010.3 M1036.8 2001L1035 2147.4 M1085.5 2001L1085.5 2147.4 M1035 2147.4C1036.8 2148.2 1041.9 2150.9 1046.1 2152C1050.3 2153.1 1055.4 2153.9 1060 2153.9C1064.6 2153.9 1069.7 2153.1 1073.9 2152C1078.2 2150.9 1083.6 2148.2 1085.5 2147.4 M1035 2137.7C1033.3 2138.2 1028 2139.7 1025.2 2140.9C1022.4 2142.1 1019.7 2143.3 1018.3 2144.6C1016.8 2145.9 1016.3 2147.1 1016.6 2148.6C1017 2150 1017.6 2151.6 1020.6 2153.2C1023.6 2154.7 1027.9 2156.6 1034.5 2157.8C1041.1 2159.1 1051.5 2160.8 1060 2160.8C1068.5 2160.8 1078.9 2159.1 1085.5 2157.8C1092.1 2156.6 1096.3 2154.7 1099.4 2153.2C1102.5 2151.6 1103.6 2150.1 1104.1 2148.6C1104.5 2147 1103.7 2145.3 1102.2 2143.9C1100.7 2142.6 1097.6 2141.6 1094.8 2140.4C1092 2139.3 1087.1 2137.7 1085.5 2137.2 M1016.6 2148.6L1015.9 2414.1 M1104.5 2148.6L1101.3 2411.7 M1015.9 2414.4C1017.2 2415.8 1020.1 2420.4 1023.9 2422.8C1027.7 2425.1 1033.2 2427.1 1038.7 2428.3C1044.3 2429.6 1051.1 2430.2 1057.3 2430.2C1063.5 2430.2 1070.3 2429.6 1075.8 2428.3C1081.4 2427.1 1086.6 2425.2 1090.7 2422.8C1094.7 2420.3 1098.7 2415 1100.3 2413.5"/>
</defs>
<rect width="2560" height="3200" fill="#fff"/>
<!-- small chair with max load -->
<g transform="translate(1557.5 -209.7) scale(0.459)" stroke="#767676"><use href="#chairA" stroke-width="6.1"/><use href="#chairB" stroke-width="5"/><use href="#chairC" stroke-width="4.4"/></g>
<g stroke="#111" stroke-linejoin="round" stroke-linecap="round"><path d="M1980.6 335.2C1981 335 1980.8 334.5 1983 333.8C1985.1 333.2 1989.3 332.1 1993.4 331.3C1997.4 330.5 2002.7 329.7 2007.3 329C2011.9 328.2 2016.6 327.4 2021.2 326.9C2025.9 326.3 2030.8 325.8 2035.1 325.5C2039.4 325.1 2045 324.9 2047 324.8L2047 324.8C2047.4 324.2 2048.5 323.3 2049.7 321.3C2051 319.3 2053.1 316.4 2054.6 313C2056.1 309.5 2057.7 304.6 2058.8 300.4C2059.9 296.3 2060.8 291.9 2061.3 287.9C2061.8 284 2061.9 280.5 2061.6 276.8C2061.3 273.1 2060.4 269.4 2059.5 265.7C2058.6 261.9 2057.2 257.4 2056 254.5C2054.8 251.6 2053.9 249.8 2052.5 248.3C2051.1 246.8 2049 246.5 2047.7 245.5C2046.3 244.4 2044.9 243.4 2044.2 242C2043.4 240.6 2043.2 238.7 2043.1 237.1C2042.9 235.6 2042.9 233.6 2043.5 232.5C2044 231.5 2045.8 231.1 2046.3 230.9L2115.8 230.9C2116.3 231.1 2118.3 231.5 2118.9 232.5C2119.5 233.6 2119.4 235.6 2119.3 237.1C2119.2 238.7 2119.1 240.6 2118.3 242C2117.5 243.4 2115.9 244.6 2114.4 245.5C2113 246.4 2111 246.1 2109.6 247.6C2108.2 249.1 2107.4 251.5 2106.1 254.5C2104.8 257.5 2103 261.9 2101.9 265.7C2100.9 269.4 2100.1 273.1 2099.8 276.8C2099.5 280.5 2099.7 284 2100.2 287.9C2100.8 291.9 2102 296.3 2103.3 300.4C2104.6 304.6 2106.6 309.5 2108.2 313C2109.8 316.4 2111.9 319.3 2113 321.3C2114.2 323.3 2114.8 324.2 2115.1 324.8L2115.1 324.8C2117.1 324.9 2122.7 325.1 2127 325.5C2131.2 325.8 2136.2 326.3 2140.9 326.9C2145.5 327.4 2150.1 328.1 2154.8 329C2159.4 329.8 2165 330.8 2168.7 331.7C2172.4 332.7 2175.6 333.9 2177 334.5C2178.5 335.1 2177.4 335.1 2177.5 335.2L2177.7 567.5C2177.6 568.4 2177.8 571.3 2176.8 573C2175.7 574.8 2174.7 576.3 2171.5 577.9C2168.3 579.5 2163.4 581.4 2157.6 582.8C2151.8 584.2 2144.8 585.3 2136.7 586.3C2128.6 587.2 2118.4 588.1 2108.9 588.6C2099.4 589.2 2089.4 589.5 2079.7 589.5C2069.9 589.5 2059.9 589.2 2050.4 588.6C2040.9 588.1 2030.7 587.2 2022.6 586.3C2014.5 585.3 2007.5 584.2 2001.7 582.8C1995.9 581.4 1991.1 579.5 1987.8 577.9C1984.6 576.3 1983.4 574.8 1982.3 573C1981.1 571.3 1981.1 568.4 1980.9 567.5Z" fill="#fff" stroke-width="3"/><path d="M1980.9 335.2C1984.3 335.6 1993.6 337 2001.7 337.7C2009.9 338.5 2020.3 339.2 2029.6 339.7C2038.8 340.1 2049 340.3 2057.4 340.5C2065.7 340.7 2072.2 340.8 2079.7 340.8C2087.1 340.8 2094 340.6 2101.9 340.4C2109.8 340.1 2118.1 339.7 2127 339.1C2135.8 338.5 2146.4 337.7 2154.8 336.9C2163.2 336.1 2173.6 334.9 2177.3 334.5" fill="none" stroke-width="1.5"/><path d="M2044.9 233.7C2047 233.9 2051.6 235 2057.4 235.3C2063.2 235.7 2072.2 235.9 2079.7 235.9C2087.1 235.9 2095.7 235.7 2101.9 235.3C2108.2 235 2114.7 233.9 2117.2 233.7" fill="none" stroke-width="1.2"/></g>
<text transform="translate(2013.5 414.5) rotate(0)" font-size="57.5" text-anchor="start" font-weight="bold" textLength="127.2" lengthAdjust="spacingAndGlyphs">MAX</text>
<text transform="translate(1992.5 504.6) rotate(0)" font-size="101" text-anchor="start" font-weight="bold" textLength="172.2" lengthAdjust="spacingAndGlyphs">130</text>
<text transform="translate(2037.4 567.8) rotate(0)" font-size="66.5" text-anchor="start" font-weight="bold" textLength="79.5" lengthAdjust="spacingAndGlyphs">kg</text>

<!-- main chair -->
<g stroke="#000"><use href="#chairA" stroke-width="3.6"/><use href="#chairB" stroke-width="3.1"/><use href="#chairC" stroke-width="2.8"/></g>
<!-- dimensions -->
<line x1="433.5" y1="1002.3" x2="1363" y2="930.6" stroke="#231f20" stroke-width="9.6"/>
<polygon points="398.6,1005 437.1,1022.6 433.9,981.7" fill="#231f20"/>
<polygon points="1397.9,927.9 1362.6,951.2 1359.4,910.3" fill="#231f20"/>
<line x1="325.9" y1="1037" x2="325.9" y2="2716.7" stroke="#231f20" stroke-width="10"/>
<polygon points="325.9,1002 305.4,1039 346.4,1039" fill="#231f20"/>
<polygon points="325.9,2751.7 305.4,2714.7 346.4,2714.7" fill="#231f20"/>
<line x1="1687.6" y1="1025.5" x2="1687.3" y2="1942.7" stroke="#231f20" stroke-width="10"/>
<polygon points="1687.6,990.5 1667.1,1027.5 1708.1,1027.5" fill="#231f20"/>
<polygon points="1687.3,1977.7 1666.8,1940.7 1707.8,1940.7" fill="#231f20"/>
<line x1="1687.3" y1="2012.7" x2="1686.4" y2="2696" stroke="#231f20" stroke-width="10"/>
<polygon points="1687.3,1977.7 1666.8,2014.7 1707.8,2014.7" fill="#231f20"/>
<polygon points="1686.4,2731 1665.9,2694 1706.9,2694" fill="#231f20"/>
<line x1="631" y1="2934.6" x2="1554.1" y2="2930.7" stroke="#231f20" stroke-width="10"/>
<polygon points="596,2934.8 633.1,2955.1 632.9,2914.1" fill="#231f20"/>
<polygon points="1589.1,2930.5 1552.2,2951.2 1552,2910.2" fill="#231f20"/>
<line x1="762.7" y1="1637.9" x2="1231.4" y2="1595.7" stroke="#231f20" stroke-width="10"/>
<polygon points="727.8,1641 766.5,1658.1 762.8,1617.3" fill="#231f20"/>
<polygon points="1266.3,1592.6 1231.3,1616.3 1227.6,1575.5" fill="#231f20"/>
<line x1="871.5" y1="1028.9" x2="932" y2="1584.2" stroke="#231f20" stroke-width="9.8"/>
<polygon points="867.7,994.1 851.3,1033.1 892.1,1028.7" fill="#231f20"/>
<polygon points="935.8,1619 911.4,1584.4 952.2,1580" fill="#231f20"/>
<line x1="962.6" y1="1641.8" x2="1181.5" y2="1825.4" stroke="#231f20" stroke-width="9.8"/>
<polygon points="936.5,1620 950.6,1659.2 977.6,1627" fill="#231f20"/>
<polygon points="1206,1846 1167.4,1839.1 1192.5,1809.2" fill="#231f20"/>
<line x1="1202.6" y1="1872.3" x2="1202.6" y2="1967.1" stroke="#231f20" stroke-width="10"/>
<polygon points="1202.6,1840.3 1181.9,1874.3 1223.3,1874.3" fill="#231f20"/>
<polygon points="1202.6,1999.1 1181.9,1965.1 1223.3,1965.1" fill="#231f20"/>
<line x1="626.2" y1="2507.4" x2="942.3" y2="2438.5" stroke="#231f20" stroke-width="9.8"/>
<polygon points="592,2514.8 632.5,2527 623.8,2486.9" fill="#231f20"/>
<polygon points="976.5,2431.1 944.7,2459 936,2418.9" fill="#231f20"/>
<line x1="669.2" y1="2695.3" x2="669.2" y2="2727.3" stroke="#231f20" stroke-width="9.7"/>
<polygon points="669.2,2664.3 648.6,2697.3 689.8,2697.3" fill="#231f20"/>
<polygon points="669.2,2758.3 648.6,2725.3 689.8,2725.3" fill="#231f20"/>
<text transform="translate(769.1 966.1) rotate(-4.6)" font-size="71" text-anchor="start" font-weight="bold" textLength="198.2" lengthAdjust="spacingAndGlyphs">66 cm</text>
<text transform="translate(979.1 1416.9) rotate(-94.9)" font-size="71" text-anchor="start" font-weight="bold" textLength="196.4" lengthAdjust="spacingAndGlyphs">38 cm</text>
<text transform="translate(967.4 1601.7) rotate(-4.3)" font-size="71" text-anchor="start" font-weight="bold" textLength="193.1" lengthAdjust="spacingAndGlyphs">37 cm</text>
<text transform="translate(1017.8 1670.5) rotate(40.3)" font-size="71" text-anchor="start" font-weight="bold" textLength="193.9" lengthAdjust="spacingAndGlyphs">39 cm</text>
<text transform="translate(1271.6 1993.5) rotate(-90)" font-size="71" text-anchor="start" font-weight="bold" textLength="153.9" lengthAdjust="spacingAndGlyphs">6 cm</text>
<text transform="translate(1755.2 1598.5) rotate(-90)" font-size="71" text-anchor="start" font-weight="bold" textLength="193.8" lengthAdjust="spacingAndGlyphs">43 cm</text>
<text transform="translate(1754.5 2489.8) rotate(-90)" font-size="71" text-anchor="start" font-weight="bold" textLength="295.6" lengthAdjust="spacingAndGlyphs">36-48 cm</text>
<text transform="translate(310.6 1997.7) rotate(-90)" font-size="71" text-anchor="start" font-weight="bold" textLength="301.7" lengthAdjust="spacingAndGlyphs">81-95 cm</text>
<text transform="translate(670.1 2484) rotate(-12.3)" font-size="71" text-anchor="start" font-weight="bold" textLength="194.3" lengthAdjust="spacingAndGlyphs">23 cm</text>
<text transform="translate(758.5 2777.4) rotate(-90)" font-size="71" text-anchor="start" font-weight="bold" textLength="152.1" lengthAdjust="spacingAndGlyphs">5 cm</text>
<text transform="translate(990.2 2996.2) rotate(0)" font-size="71" text-anchor="start" font-weight="bold" textLength="195.8" lengthAdjust="spacingAndGlyphs">49 cm</text>
<text transform="translate(2222.6 3141.3) rotate(0)" font-size="71" text-anchor="start" font-weight="bold" textLength="265.8" lengthAdjust="spacingAndGlyphs">+/- 2 cm</text>
</svg>
</body>
</html>
